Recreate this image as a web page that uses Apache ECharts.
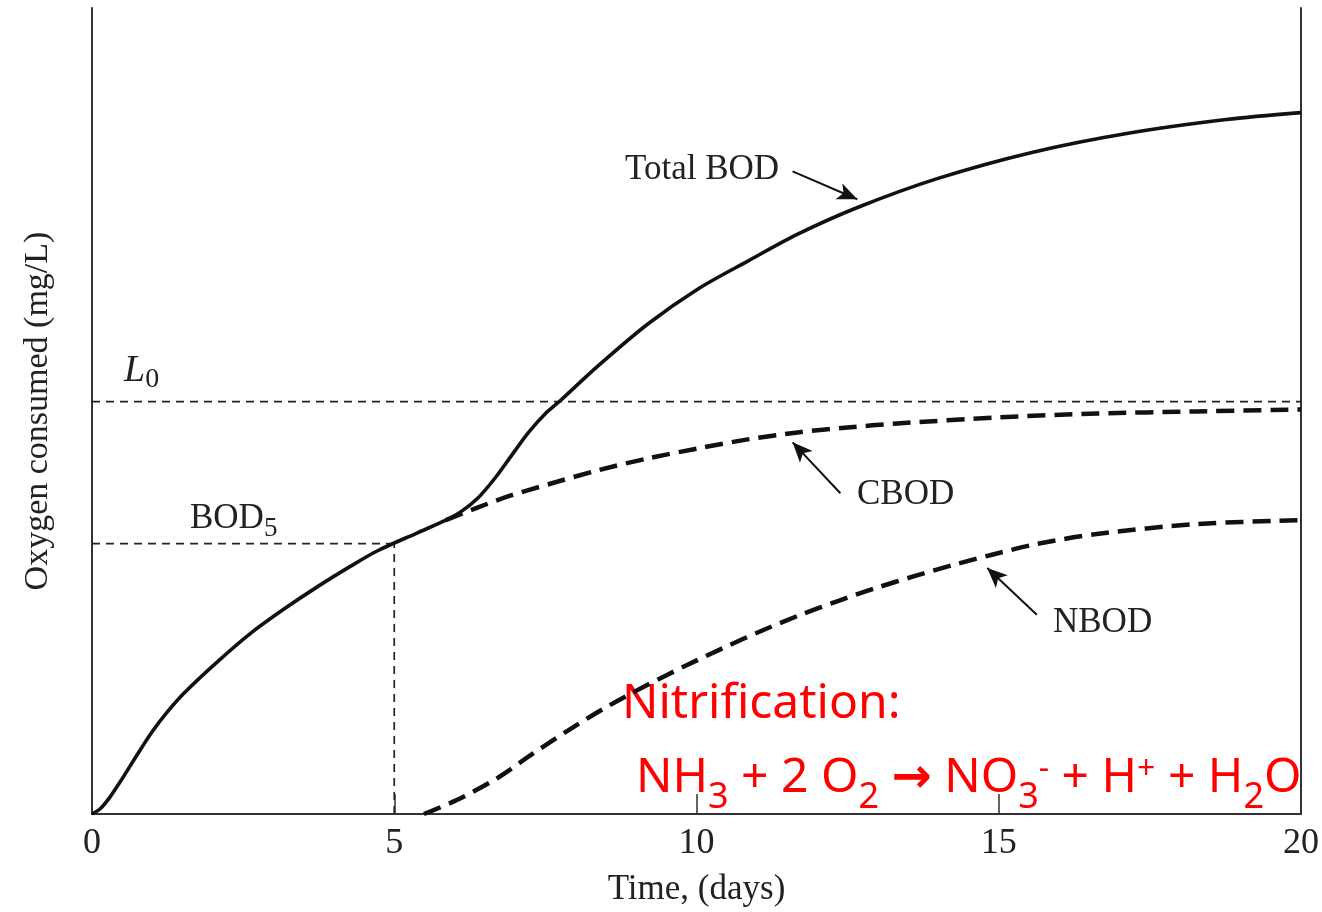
<!DOCTYPE html>
<html>
<head>
<meta charset="utf-8">
<script src="https://cdn.jsdelivr.net/npm/echarts@6/dist/echarts.min.js"></script>
<style>
html,body{margin:0;padding:0;background:#fff;}
#c{width:1322px;height:912px;}
</style>
</head>
<body>
<div id="c"></div>
<script>
// ---- data (x in days, y in relative oxygen units, 0..100 = full axis height) ----
const xTicks = [0, 5, 10, 15, 20];
const totalDays = [0, 0.132, 0.297, 0.495, 0.742, 0.989, 1.253, 1.533, 2.078, 2.638, 3.182, 3.726, 4.287, 4.716, 5.375, 5.853, 6.117, 6.397, 6.678, 6.942, 7.222, 7.502, 7.749, 8.376, 9.200, 10.025, 10.849, 11.674, 12.663, 13.982, 15.548, 17.115, 18.763, 20];
const totalBOD  = [0, 0.62, 2.10, 4.33, 7.29, 10.14, 12.73, 15.08, 18.91, 22.50, 25.46, 28.18, 30.78, 32.63, 34.86, 36.46, 37.58, 39.31, 41.78, 44.50, 47.34, 49.69, 51.30, 55.62, 60.82, 65.14, 68.60, 71.94, 75.25, 78.83, 82.08, 84.43, 86.16, 87.02];
const cbodDays  = [5.853, 6.397, 6.942, 7.552, 8.376, 9.200, 10.025, 10.849, 11.674, 12.498, 13.322, 14.970, 16.620, 18.269, 20];
const cbod      = [36.46, 38.07, 39.55, 40.91, 42.65, 44.13, 45.36, 46.48, 47.34, 47.96, 48.45, 49.20, 49.69, 49.94, 50.19];
const nbodDays  = [5.491, 6.035, 6.678, 7.304, 7.931, 8.557, 9.200, 9.827, 10.454, 11.080, 11.723, 12.350, 12.976, 13.619, 14.245, 14.872, 15.630, 16.620, 18.269, 20];
const nbod      = [0, 1.73, 4.33, 7.54, 10.63, 13.47, 16.07, 18.42, 20.64, 22.74, 24.72, 26.45, 28.06, 29.54, 30.90, 32.14, 33.50, 34.74, 35.97, 36.46];
const L0 = 51.17;
const bod5Day = 5;
const bod5 = 33.54;
// annotation arrows: [tailDay, tailY, tipDay, tipY]
const arrowTotal = [11.59, 79.73, 12.66, 76.27];
const arrowCBOD  = [12.38, 39.80, 11.59, 46.11];
const arrowNBOD  = [15.63, 24.72, 14.81, 30.53];

const pairs = (xs, ys) => xs.map((x, i) => [x, ys[i]]);
const SERIF = '"Liberation Serif", "DejaVu Serif", serif';
const SANS = '"Noto Sans", "DejaVu Sans", sans-serif';
const ink = '#222';

function arrowLine(a) {
  return {
    silent: true,
    symbol: ['none', 'arrow'],
    symbolSize: [13, 20],
    label: {show: false},
    lineStyle: {color: '#111', width: 2, type: 'solid'},
    data: [[{coord: [a[0], a[1]]}, {coord: [a[2], a[3]]}]]
  };
}

const chart = echarts.init(document.getElementById('c'), null, {renderer: 'canvas'});
const option = {
  animation: false,
  backgroundColor: '#fff',
  grid: {left: 92, right: 17, top: 8, bottom: 95, containLabel: false},
  xAxis: {
    type: 'value', min: xTicks[0], max: xTicks[xTicks.length - 1], interval: 5,
    name: 'Time, (days)', nameLocation: 'middle', nameGap: 58,
    nameTextStyle: {fontFamily: SERIF, fontSize: 35, color: ink},
    axisLine: {show: true, lineStyle: {color: '#333', width: 2}},
    axisTick: {show: true, inside: true, length: 20, lineStyle: {color: '#333', width: 1.5}},
    axisLabel: {fontFamily: SERIF, fontSize: 36, color: ink, margin: 12},
    splitLine: {show: false}
  },
  yAxis: [{
    type: 'value', min: 0, max: 100,
    name: 'Oxygen consumed (mg/L)', nameLocation: 'middle', nameGap: 37, nameRotate: 90,
    nameTextStyle: {fontFamily: SERIF, fontSize: 34, color: ink},
    axisLine: {show: true, onZero: false, lineStyle: {color: '#333', width: 2}},
    axisTick: {show: false}, axisLabel: {show: false}, splitLine: {show: false}
  }, {
    type: 'value', min: 0, max: 100, position: 'right',
    axisLine: {show: true, onZero: false, lineStyle: {color: '#333', width: 2}},
    axisTick: {show: false}, axisLabel: {show: false}, splitLine: {show: false}
  }],
  series: [
    {
      name: 'L0', type: 'line', data: [[xTicks[0], L0], [xTicks[4], L0]],
      showSymbol: false, silent: true,
      lineStyle: {color: '#222', width: 1.7, type: [8, 6]}
    },
    {
      name: 'BOD5h', type: 'line', data: [[0, bod5], [bod5Day, bod5]],
      showSymbol: false, silent: true,
      lineStyle: {color: '#222', width: 1.7, type: [8, 6]}
    },
    {
      name: 'BOD5v', type: 'line', data: [[bod5Day, 0], [bod5Day, bod5]],
      showSymbol: false, silent: true,
      lineStyle: {color: '#222', width: 1.7, type: [8, 6]}
    },
    {
      name: 'CBOD', type: 'line', data: pairs(cbodDays, cbod), smooth: 0.3,
      showSymbol: false, silent: true,
      lineStyle: {color: '#111', width: 4.5, type: [18, 9]},
      markLine: arrowLine(arrowCBOD)
    },
    {
      name: 'NBOD', type: 'line', data: pairs(nbodDays, nbod), smooth: 0.3,
      showSymbol: false, silent: true,
      lineStyle: {color: '#111', width: 4.5, type: [18, 9]},
      markLine: arrowLine(arrowNBOD)
    },
    {
      name: 'Total BOD', type: 'line', data: pairs(totalDays, totalBOD), smooth: 0.3,
      showSymbol: false, silent: true,
      lineStyle: {color: '#111', width: 3.6},
      markLine: arrowLine(arrowTotal)
    }
  ],
  graphic: [
    {type: 'text', x: 625, y: 170, silent: true,
     style: {text: 'Total BOD', font: '35px ' + SERIF, fill: ink, verticalAlign: 'middle'}},
    {type: 'text', x: 857, y: 495, silent: true,
     style: {text: 'CBOD', font: '35px ' + SERIF, fill: ink, verticalAlign: 'middle'}},
    {type: 'text', x: 1053, y: 623, silent: true,
     style: {text: 'NBOD', font: '35px ' + SERIF, fill: ink, verticalAlign: 'middle'}},
    {type: 'text', x: 124, y: 352, silent: true,
     style: {
       text: '{l|L}{s|0}', verticalAlign: 'top',
       rich: {
         l: {fontFamily: SERIF, fontStyle: 'italic', fontSize: 38, lineHeight: 40, verticalAlign: 'top', fill: ink, color: ink},
         s: {fontFamily: SERIF, fontSize: 28, padding: [14, 0, 0, 0], verticalAlign: 'top', fill: ink, color: ink}
       }
     }},
    {type: 'text', x: 190, y: 501, silent: true,
     style: {
       text: '{m|BOD}{s|5}', verticalAlign: 'top',
       rich: {
         m: {fontFamily: SERIF, fontSize: 35, lineHeight: 38, verticalAlign: 'top', fill: ink, color: ink},
         s: {fontFamily: SERIF, fontSize: 27, padding: [14, 0, 0, 0], verticalAlign: 'top', fill: ink, color: ink}
       }
     }},
    {type: 'text', x: 622, y: 704, silent: true,
     style: {text: 'Nitrification:', font: '48px ' + SANS, fill: '#ff0000', verticalAlign: 'middle'}},
    {type: 'text', x: 636, y: 754, silent: true,
     style: {
       text: '{m|NH}{s|3}{m| + 2 O}{s|2}{m| }{a|→}{m| NO}{s|3}{p|-}{m| + H}{p|+}{m| + H}{s|2}{m|O}',
       verticalAlign: 'top',
       rich: {
         m: {fontFamily: SANS, fontSize: 48, lineHeight: 56, verticalAlign: 'top', fill: '#ff0000', color: '#ff0000'},
         a: {fontFamily: SANS, fontSize: 48, fontWeight: 'bold', lineHeight: 56, verticalAlign: 'top', fill: '#ff0000', color: '#ff0000'},
         s: {fontFamily: SANS, fontSize: 36, padding: [26, 0, 0, 0], verticalAlign: 'top', fill: '#ff0000', color: '#ff0000'},
         p: {fontFamily: SANS, fontSize: 32, padding: [0, 0, 0, 0], verticalAlign: 'top', fill: '#ff0000', color: '#ff0000'}
       }
     }}
  ]
};
chart.setOption(option);
</script>
</body>
</html>
